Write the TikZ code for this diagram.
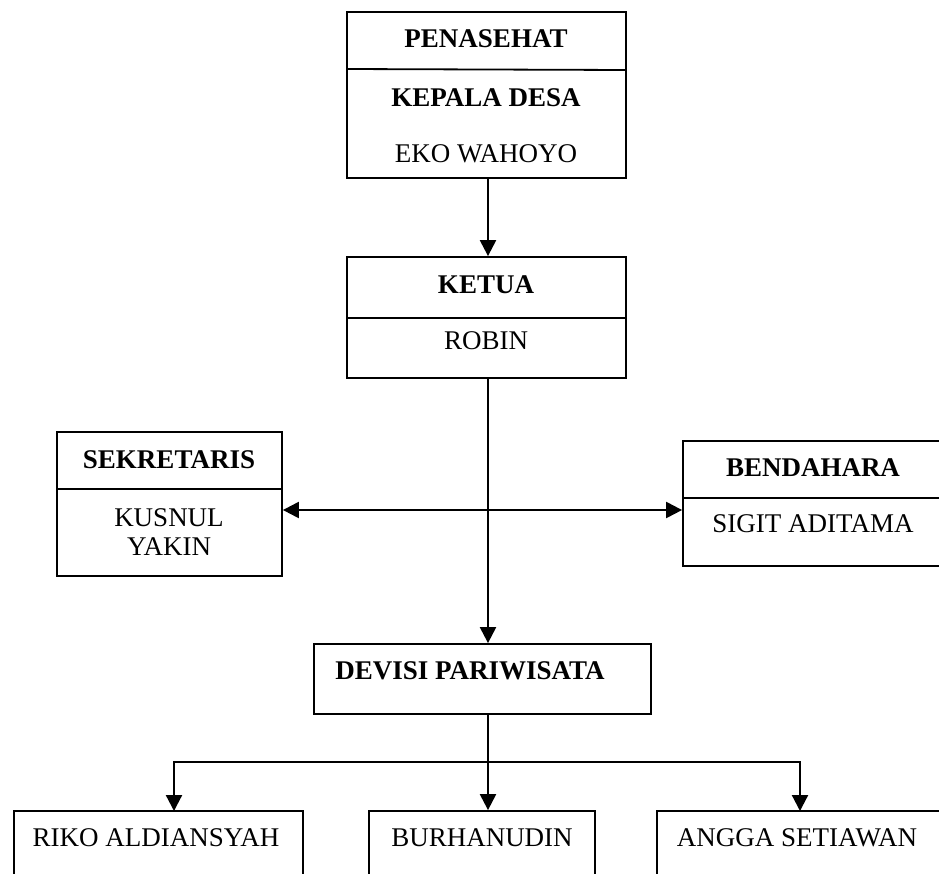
\documentclass[tikz,border=0pt]{standalone}
\usepackage{fontspec}
\setmainfont{Liberation Serif}
\usetikzlibrary{arrows.meta,calc}
\begin{document}
\begin{tikzpicture}[x=1pt,y=-1pt,
  box/.style={draw,line width=1.8pt,inner sep=0pt,rectangle},
  lbl/.style={inner sep=0pt,font=\fontsize{27}{30}\selectfont},
  blbl/.style={lbl,font=\fontsize{27}{30}\selectfont\bfseries},
  divider/.style={line width=1.8pt},
  conn/.style={line width=2.2pt},
  arr/.style={conn,-{Triangle[length=16pt,width=16pt]}},
  darr/.style={conn,{Triangle[length=16pt,width=16pt]}-{Triangle[length=16pt,width=16pt]}}
]
\useasboundingbox (0,0) rectangle (939,873);
\fill[white] (0,0) rectangle (939,873);
\clip (0,0) rectangle (939,873);

% boxes
\node[box,minimum width=279pt,minimum height=166pt] (pen) at (486.5,95) {};
\node[box,minimum width=279pt,minimum height=121pt] (ket) at (486.5,317.5) {};
\node[box,minimum width=225pt,minimum height=144pt] (sek) at (169.5,504) {};
\node[box,minimum width=260pt,minimum height=125pt] (ben) at (813,503.5) {};
\node[box,minimum width=337pt,minimum height=70pt] (dev) at (482.5,679) {};
\node[box,minimum width=289pt,minimum height=90pt] (rik) at (158.5,856) {};
\node[box,minimum width=226pt,minimum height=90pt] (bur) at (482,856) {};
\node[box,minimum width=286pt,minimum height=90pt] (ang) at (800,856) {};

% dividers
\draw[divider] (pen.west |- 0,69) -- (pen.east |- 0,70);
\draw[divider] (ket.west |- 0,318) -- (ket.east |- 0,318);
\draw[divider] (sek.west |- 0,489) -- (sek.east |- 0,489);
\draw[divider] (ben.west |- 0,498) -- (ben.east |- 0,498);

% texts
\node[blbl] (tpen) at (486,39) {PENASEHAT};
\node[blbl] (tkd) at (486,98) {KEPALA DESA};
\node[lbl] (teko) at (486,153.5) {EKO WAHOYO};
\node[blbl] (tket) at (486,285) {KETUA};
\node[lbl] (trob) at (486,341) {ROBIN};
\node[blbl] (tsek) at (169,459.5) {SEKRETARIS};
\node[lbl] (tkus) at (169,517.5) {KUSNUL};
\node[lbl] (tyak) at (169,546.5) {YAKIN};
\node[blbl] (tben) at (813,467.5) {BENDAHARA};
\node[lbl] (tsig) at (813,524) {SIGIT ADITAMA};
\node[blbl] (tdev) at (470,671) {DEVISI PARIWISATA};
\node[lbl] (trik) at (156,837.5) {RIKO ALDIANSYAH};
\node[lbl] (tbur) at (482,837.5) {BURHANUDIN};
\node[lbl] (tang) at (797,837.5) {ANGGA SETIAWAN};

% connectors
\coordinate (spine) at (488,510);
\coordinate (bus) at (488,762);
\coordinate (rikin) at (174,811);
\coordinate (angin) at (800,811);
\draw[arr] (pen.south -| spine) -- (ket.north -| spine);
\draw[arr] (ket.south -| spine) -- (dev.north -| spine);
\draw[darr] (sek.east |- spine) -- (ben.west |- spine);
\draw[conn] (dev.south -| bus) -- (bus);
\draw[arr] (bus) -- (bur.north -| bus);
\draw[arr] (bus) -| (rikin);
\draw[arr] (bus) -| (angin);
\end{tikzpicture}
\end{document}
